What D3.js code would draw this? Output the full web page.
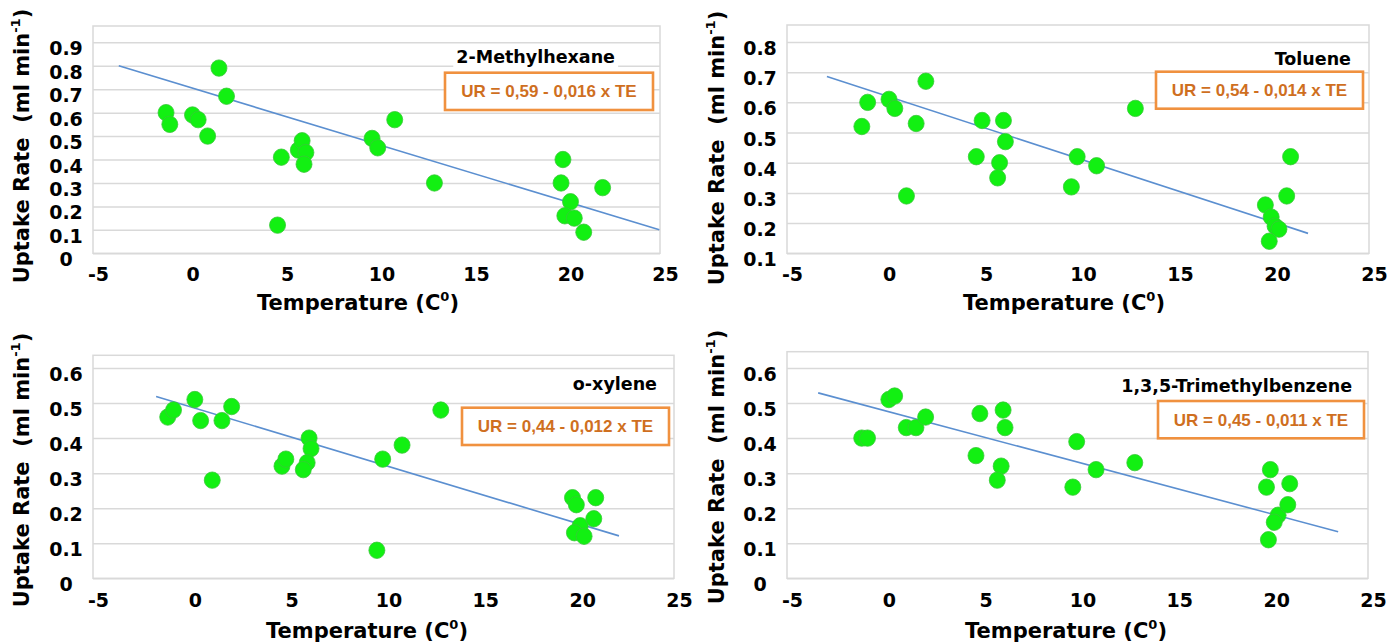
<!DOCTYPE html>
<html><head><meta charset="utf-8">
<script src="https://cdn.jsdelivr.net/npm/d3@7"></script>
<style>
body{margin:0;background:#fff;}
svg{display:block;}
</style></head><body>
<svg id="chart" width="1388" height="642"></svg>
<script>
// ---------- DATA ----------
const compounds = ["2-Methylhexane", "Toluene", "o-xylene", "1,3,5-Trimethylbenzene"];
const equations = ["UR = 0,59 - 0,016 x TE", "UR = 0,54 - 0,014 x TE", "UR = 0,44 - 0,012 x TE", "UR = 0,45 - 0,011 x TE"];
const xTicks = [-5, 0, 5, 10, 15, 20, 25];
const yTicksMethylhexane = [0, 0.1, 0.2, 0.3, 0.4, 0.5, 0.6, 0.7, 0.8, 0.9];
const yTicksToluene = [0.1, 0.2, 0.3, 0.4, 0.5, 0.6, 0.7, 0.8];
const yTicksXylene = [0, 0.1, 0.2, 0.3, 0.4, 0.5, 0.6];
const yTicksTMB = [0, 0.1, 0.2, 0.3, 0.4, 0.5, 0.6];

const methylhexaneTemp = [-1.4, -1.2, 0.0, 0.3, 0.8, 1.4, 1.8, 4.7, 4.5, 5.6, 5.8, 6.0, 5.9, 9.5, 9.8, 10.7, 12.8, 19.6, 19.5, 20.0, 19.7, 20.2, 20.7, 21.7];
const methylhexaneRate = [0.60, 0.55, 0.59, 0.57, 0.50, 0.79, 0.67, 0.41, 0.12, 0.44, 0.48, 0.43, 0.38, 0.49, 0.45, 0.57, 0.30, 0.40, 0.30, 0.22, 0.16, 0.15, 0.09, 0.28];
const methylhexaneTrendTemp = [-3.9, 24.7];
const methylhexaneTrendRate = [0.80, 0.10];

const tolueneTemp = [-1.4, -1.1, 0.0, 0.3, 0.9, 1.4, 1.9, 4.5, 4.8, 5.9, 6.0, 5.7, 5.6, 9.4, 9.7, 10.7, 12.7, 19.4, 19.7, 19.9, 20.1, 19.6, 20.5, 20.7];
const tolueneRate = [0.52, 0.60, 0.61, 0.58, 0.29, 0.53, 0.67, 0.42, 0.54, 0.54, 0.47, 0.40, 0.35, 0.32, 0.42, 0.39, 0.58, 0.26, 0.22, 0.19, 0.18, 0.14, 0.29, 0.42];
const tolueneTrendTemp = [-3.2, 21.6];
const tolueneTrendRate = [0.686, 0.166];

const xyleneTemp = [-1.4, -1.1, 0.0, 0.3, 0.9, 1.4, 1.9, 4.5, 4.7, 5.9, 6.0, 5.8, 5.6, 9.4, 9.7, 10.7, 12.7, 19.5, 19.7, 19.9, 19.6, 20.1, 20.6, 20.7];
const xyleneRate = [0.46, 0.48, 0.51, 0.45, 0.28, 0.45, 0.49, 0.32, 0.34, 0.40, 0.37, 0.33, 0.31, 0.08, 0.34, 0.38, 0.48, 0.23, 0.21, 0.15, 0.13, 0.12, 0.17, 0.23];
const xyleneTrendTemp = [-2.0, 21.9];
const xyleneTrendRate = [0.519, 0.121];

const tmbTemp = [-1.4, -1.1, 0.0, 0.3, 0.9, 1.4, 1.9, 4.5, 4.7, 5.9, 6.0, 5.8, 5.6, 9.5, 9.7, 10.7, 12.7, 19.7, 19.5, 20.1, 19.9, 19.6, 20.6, 20.7];
const tmbRate = [0.40, 0.40, 0.51, 0.52, 0.43, 0.43, 0.46, 0.35, 0.47, 0.48, 0.43, 0.32, 0.28, 0.26, 0.39, 0.31, 0.33, 0.31, 0.26, 0.18, 0.16, 0.11, 0.21, 0.27];
const tmbTrendTemp = [-3.65, 23.2];
const tmbTrendRate = [0.529, 0.133];

// ---------- LAYOUT (positions only) ----------
const layouts = [
  {xr:[98,665], yd:[0,0.9], yr:[253.3,42.3], frameTop:26, labX:66, xlabBase:281, xTitle:[358,310], yTitle:[29,146], titleEnd:[615,63.3], box:[445,72.7,653,110]},
  {xr:[792,1374], yd:[0.1,0.8], yr:[253.3,42], frameTop:25, labX:760, xlabBase:281, xTitle:[1064,310], yTitle:[724,148], titleEnd:[1351,65], box:[1156,71.7,1363,108.7]},
  {xr:[98,679], yd:[0,0.6], yr:[578.3,368], frameTop:355.3, labX:66, xlabBase:607, xTitle:[367,638], yTitle:[29,470], titleEnd:[657,390], box:[462,407.7,669,445]},
  {xr:[792,1373], yd:[0,0.6], yr:[578.3,368], frameTop:351.7, labX:760, xlabBase:607, xTitle:[1066,638], yTitle:[724,467], titleEnd:[1352,392], box:[1158,401,1364,438.3]}
];

const panels = [
  {title:compounds[0], eq:equations[0], yTicks:yTicksMethylhexane, xs:methylhexaneTemp, ys:methylhexaneRate, tx:methylhexaneTrendTemp, ty:methylhexaneTrendRate},
  {title:compounds[1], eq:equations[1], yTicks:yTicksToluene, xs:tolueneTemp, ys:tolueneRate, tx:tolueneTrendTemp, ty:tolueneTrendRate},
  {title:compounds[2], eq:equations[2], yTicks:yTicksXylene, xs:xyleneTemp, ys:xyleneRate, tx:xyleneTrendTemp, ty:xyleneTrendRate},
  {title:compounds[3], eq:equations[3], yTicks:yTicksTMB, xs:tmbTemp, ys:tmbRate, tx:tmbTrendTemp, ty:tmbTrendRate}
];

const svg = d3.select("#chart");
const AXFONT = "'DejaVu Sans', Verdana, sans-serif";
const GRID = "#d9d9d9";

panels.forEach((p, i) => {
  const L = layouts[i];
  const x = d3.scaleLinear().domain([-5, 25]).range(L.xr);
  const y = d3.scaleLinear().domain(L.yd).range(L.yr);
  const g = svg.append("g");
  const fx0 = x(-5) - 5, fx1 = x(25) - 5;
  const fyb = y(L.yd[0]);

  // gridlines via axis
  const gridAxis = d3.axisLeft(y).tickValues(p.yTicks).tickSize(-(fx1 - fx0)).tickFormat("");
  const gg = g.append("g").attr("transform", `translate(${fx0},0)`).call(gridAxis);
  gg.select(".domain").remove();
  gg.selectAll("line").attr("stroke", GRID).attr("stroke-width", 1.5);

  // frame
  g.append("rect").attr("x", fx0).attr("y", L.frameTop).attr("width", fx1 - fx0).attr("height", fyb - L.frameTop)
    .attr("fill", "none").attr("stroke", GRID).attr("stroke-width", 1.5);

  // y tick labels
  const yAxis = d3.axisLeft(y).tickValues(p.yTicks).tickSize(0).tickFormat(d => d === 0 ? "0" : d.toFixed(1));
  const ya = g.append("g").attr("transform", `translate(${L.labX},0)`).call(yAxis);
  ya.select(".domain").remove();
  ya.selectAll("text").attr("x", 0).attr("dy", null)
    .attr("y", 12.5).attr("text-anchor", "middle")
    .style("font-family", AXFONT).style("font-weight", "bold").style("font-size", "19px").attr("fill", "#000");

  // x tick labels
  const xAxis = d3.axisBottom(x).tickValues(xTicks).tickSize(0).tickFormat(d => String(d));
  const xa = g.append("g").attr("transform", `translate(0,${L.xlabBase})`).call(xAxis);
  xa.select(".domain").remove();
  xa.selectAll("text").attr("y", 0).attr("dy", null)
    .style("font-family", AXFONT).style("font-weight", "bold").style("font-size", "19px").attr("fill", "#000");

  // trend line
  const trend = p.tx.map((t, k) => [t, p.ty[k]]);
  g.append("path").datum(trend)
    .attr("d", d3.line().x(d => x(d[0])).y(d => y(d[1])))
    .attr("fill", "none").attr("stroke", "#5b8fd0").attr("stroke-width", 1.6);

  // points
  const pts = p.xs.map((t, k) => [t, p.ys[k]]);
  g.append("g").selectAll("ellipse").data(pts).join("ellipse")
    .attr("cx", d => x(d[0])).attr("cy", d => y(d[1]))
    .attr("rx", 8).attr("ry", 8.2)
    .attr("fill", "#12f012").attr("stroke", "#38c838").attr("stroke-width", 0.8);

  // title with white background
  const tt = g.append("text").attr("x", L.titleEnd[0]).attr("y", L.titleEnd[1])
    .attr("text-anchor", "end")
    .style("font-family", AXFONT).style("font-weight", "bold").style("font-size", "17.5px").attr("fill", "#000")
    .text(p.title);
  const bb = tt.node().getBBox();
  g.insert("rect", function(){ return tt.node(); })
    .attr("x", bb.x - 3).attr("y", bb.y - 1).attr("width", bb.width + 6).attr("height", bb.height + 2)
    .attr("fill", "#fff");

  // equation box
  const [bx0, by0, bx1, by1] = L.box;
  g.append("rect").attr("x", bx0).attr("y", by0).attr("width", bx1 - bx0).attr("height", by1 - by0)
    .attr("fill", "#fff").attr("stroke", "#f0913f").attr("stroke-width", 2.6);
  g.append("text").attr("x", (bx0 + bx1) / 2).attr("y", (by0 + by1) / 2 + 6)
    .attr("text-anchor", "middle")
    .style("font-family", "'Liberation Sans', Arial, sans-serif").style("font-weight", "bold").style("font-size", "17px")
    .attr("fill", "#cf6f1f").text(p.eq);

  // x title
  const xt = g.append("text").attr("x", L.xTitle[0]).attr("y", L.xTitle[1]).attr("text-anchor", "middle")
    .style("font-family", AXFONT).style("font-weight", "bold").style("font-size", "21px").attr("fill", "#000");
  xt.append("tspan").text("Temperature (C");
  xt.append("tspan").attr("dy", -9).style("font-size", "13px").text("0");
  xt.append("tspan").attr("dy", 9).text(")");

  // y title
  const yt = g.append("text").attr("transform", `translate(${L.yTitle[0]},${L.yTitle[1]}) rotate(-90)`)
    .attr("text-anchor", "middle").style("white-space", "pre")
    .style("font-family", AXFONT).style("font-weight", "bold").style("font-size", "21px").attr("fill", "#000");
  yt.append("tspan").text("Uptake Rate  (ml min");
  yt.append("tspan").attr("dy", -9).style("font-size", "13px").text("-1");
  yt.append("tspan").attr("dy", 9).text(")");
});
</script>
</body></html>
